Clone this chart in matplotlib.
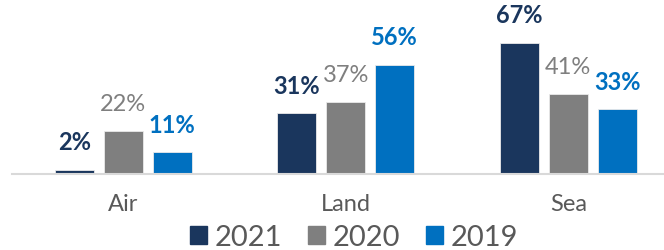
import numpy as np
import matplotlib.pyplot as plt
from matplotlib.patches import Patch

plt.rcParams['font.family'] = ['Lato', 'DejaVu Sans']

# Datos
categories = ["Air", "Land", "Sea"]
years = ["2021", "2020", "2019"]
values_2021 = [2, 31, 67]
values_2020 = [22, 37, 41]
values_2019 = [11, 56, 33]

colors = ["#1A365D", "#7F7F7F", "#0070C0"]
weights = ["bold", "normal", "bold"]
text_gray = "#595959"

fig = plt.figure(figsize=(6.64, 2.51), dpi=100)
ax = fig.add_axes([12 / 664, 76 / 251, 652 / 664, 175 / 251])

x = np.arange(len(categories))
width = 0.176
step = 0.22

series = [values_2021, values_2020, values_2019]
for i, vals in enumerate(series):
    pos = x + (i - 1) * step
    bars = ax.bar(pos, vals, width=width, color=colors[i], edgecolor="#EAEAEA",
                  linewidth=0.6, label=years[i])
    ax.bar_label(bars, labels=[f"{v}%" for v in vals], padding=12,
                 color=colors[i], fontsize=17, fontweight=weights[i])

ax.set_xlim(-0.5, 2.43)
ax.set_ylim(0, 89.5)
ax.set_xticks(x)
ax.set_xticklabels(categories, fontsize=17, color=text_gray)
ax.tick_params(axis="x", length=0, pad=14)
ax.set_yticks([])
for s in ["top", "right", "left"]:
    ax.spines[s].set_visible(False)
ax.spines["bottom"].set_color("#D9D9D9")
ax.spines["bottom"].set_linewidth(1.5)

handles = [Patch(color=c, label=y) for c, y in zip(colors, years)]
fig.legend(handles=handles, loc="center", bbox_to_anchor=(354 / 664, 13 / 251),
           ncol=3, frameon=False, fontsize=21, labelcolor=text_gray,
           handlelength=0.58, handleheight=0.58, handletextpad=0.25,
           columnspacing=0.9, borderpad=0, borderaxespad=0)

fig.savefig("out.png", dpi=100)
